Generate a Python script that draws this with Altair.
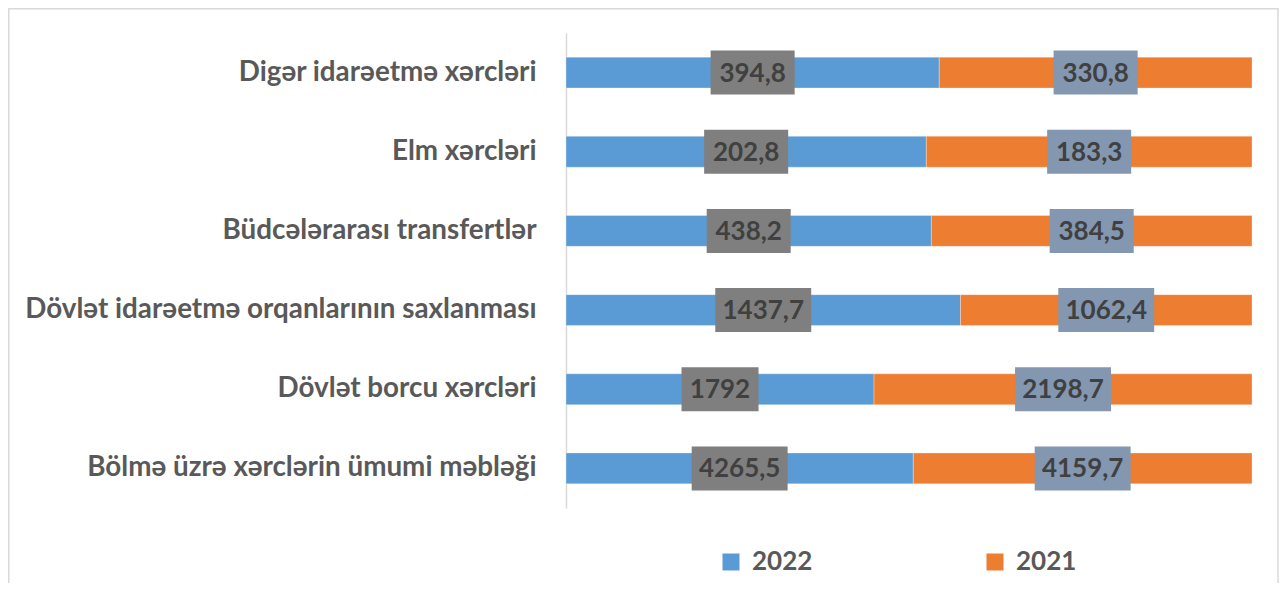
import altair as alt
import pandas as pd

categories = [
    "Digər idarəetmə xərcləri",
    "Elm xərcləri",
    "Büdcələrarası transfertlər",
    "Dövlət idarəetmə orqanlarının saxlanması",
    "Dövlət borcu xərcləri",
    "Bölmə üzrə xərclərin ümumi məbləği",
]
values_2022 = [394.8, 202.8, 438.2, 1437.7, 1792, 4265.5]
values_2021 = [330.8, 183.3, 384.5, 1062.4, 2198.7, 4159.7]
years = ["2022", "2021"]

bar_colors = ["#5b9bd5", "#ed7d31"]
box_colors = {"2022": "#7f7f7f", "2021": "#8497b0"}

rows = []
for cat, a, b in zip(categories, values_2022, values_2021):
    for ordv, (yr, v) in enumerate(zip(years, [a, b])):
        lab = f"{v:g}".replace(".", ",")
        rows.append({"cat": cat, "year": yr, "value": v, "ord": ordv,
                     "label": lab, "len": str(len(lab)), "boxcol": box_colors[yr]})
df = pd.DataFrame(rows)

FONT = "Lato"
W, H = 686, 475
PAD_L, PAD_T = 558, 25

yscale = alt.Scale(paddingInner=0.61, paddingOuter=0.305)
xscale = alt.Scale(domain=[0, 1], nice=False, zero=False)
yaxis = alt.Axis(title=None, labelFont=FONT, labelFontSize=27.8, labelFontWeight="bold",
                 labelColor="#595959", labelPadding=30, ticks=False,
                 domainColor="#d9d9d9", domainWidth=1.5, labelLimit=0, grid=False)

bars = alt.Chart(df).mark_bar(stroke="#ffffff", strokeWidth=0.5, strokeOpacity=0.6).encode(
    y=alt.Y("cat:N", sort=categories, scale=yscale, axis=yaxis),
    x=alt.X("value:Q", stack="normalize", scale=xscale, axis=None),
    color=alt.Color("year:N", scale=alt.Scale(domain=years, range=bar_colors),
                    legend=alt.Legend(title=None, orient="none", legendX=152, legendY=516,
                                      direction="horizontal", symbolType="square",
                                      symbolSize=289, symbolStrokeWidth=0,
                                      labelFont=FONT, labelFontSize=26, labelFontWeight="bold",
                                      labelColor="#595959", labelOffset=8, columnPadding=169)),
    order=alt.Order("ord:Q"),
)

stacked = alt.Chart(df).transform_stack(
    stack="value", groupby=["cat"], as_=["x0", "x1"], offset="normalize",
    sort=[alt.SortField("ord", order="ascending")],
).transform_calculate(mid="(datum.x0 + datum.x1) / 2")

boxes = stacked.mark_point(filled=True, opacity=1, size=44 * 44, strokeWidth=0).encode(
    y=alt.Y("cat:N", sort=categories, scale=yscale, axis=yaxis),
    x=alt.X("mid:Q", scale=xscale, axis=None),
    shape=alt.Shape("len:N", scale=alt.Scale(
        domain=["4", "5", "6"],
        range=["M-1.75,-1H1.75V1H-1.75Z", "M-1.91,-1H1.91V1H-1.91Z", "M-2.18,-1H2.18V1H-2.18Z"]),
        legend=None),
    fill=alt.Fill("boxcol:N", scale=None),
)

texts = stacked.mark_text(font=FONT, fontSize=26, fontWeight="bold", color="#404040",
                          baseline="middle", align="center", dy=1).encode(
    y=alt.Y("cat:N", sort=categories, scale=yscale, axis=yaxis),
    x=alt.X("mid:Q", scale=xscale, axis=None),
    text="label:N",
)

frame = alt.Chart(pd.DataFrame({"k": [0]})).mark_rect(
    fill=None, stroke="#d9d9d9", strokeWidth=1.5).encode(
    x=alt.value(-PAD_L + 0.75), x2=alt.value(W + 26),
    y=alt.value(-PAD_T + 0.75), y2=alt.value(H + 200),
)

chart = alt.layer(bars, boxes, texts, frame).properties(
    width=W, height=H,
    background="#ffffff",
    autosize=alt.AutoSizeParams(type="none"),
    padding={"left": PAD_L, "top": PAD_T, "right": 27, "bottom": 75},
).configure_view(stroke=None)

chart.save("out.html", embed_options={"renderer": "svg", "actions": False})
